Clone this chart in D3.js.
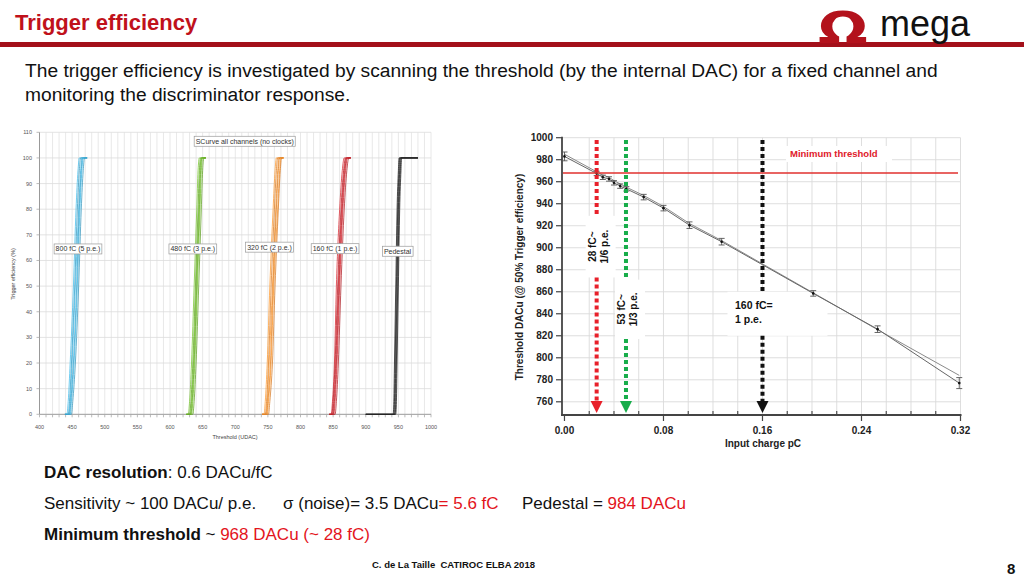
<!DOCTYPE html>
<html><head><meta charset="utf-8">
<script src="https://cdn.jsdelivr.net/npm/d3@7"></script>
<style>body{margin:0;background:#fff;} svg{display:block;font-family:"Liberation Sans",Arial,sans-serif;} text{white-space:pre;}</style>
</head><body>
<svg id="c" width="1024" height="576"></svg>
<script>
// ---------- DATA ----------
// Left chart: S-curves (threshold in UDAC at given efficiency levels, %)
const effLevels = [0, 5, 20, 50, 80, 95, 100];
const blueCh = [
  [442,444,447,452,456,459,461],[444,446,449,454,458,461,463],[445,447,450,455,460,463,465],
  [446,448,452,457,461,464,466],[447,449,453,458,462,465,467],[449,451,455,460,464,467,469]];
const greenCh = [
  [628,630,633,637,641,643,645],[630,632,635,639,643,645,647],[631,633,636,640,644,646,648],
  [632,634,637,641,645,647,649],[633,635,638,642,646,648,650],[635,637,640,644,648,650,652]];
const orangeCh = [
  [744,746,749,753,758,761,763],[746,748,751,755,760,763,765],[747,749,752,757,762,765,767],
  [748,750,754,758,763,766,768],[749,751,755,759,765,768,770],[751,753,757,761,766,769,771]];
const redCh = [
  [847,849,852,855,860,864,867],[848,850,853,857,862,866,869],[849,851,854,858,863,867,870],
  [850,852,855,859,864,868,871],[851,853,856,860,865,869,872],[853,855,858,862,867,871,874]];
const blackCh = [
  [942,943,944,946,948,950,951],[943,944,945,947,949,951,952],[944,945,946,948,950,952,953],
  [945,946,947,949,951,953,954],[946,947,948,950,952,954,955]];
const groupNames = ["800 fC (5 p.e.)","480 fC (3 p.e.)","320 fC (2 p.e.)","160 fC (1 p.e.)","Pedestal"];
const groupColors = ["#3eaad3","#6cb22a","#f08a2a","#c4262e","#222222"];
const groupTailLeft = [439, 625, 741, 844, 900];
const groupTailRight = [473, 655, 774, 877, 980];
const groupLabelPos = [[459,64.5],[635,64.5],[752.5,65.2],[853,64.6],[948.7,63.6]]; // [UDAC, %]
const leftTitle = "SCurve all channels (no clocks)";
const leftXTicks = [400,450,500,550,600,650,700,750,800,850,900,950,1000];
const leftYTicks = [0,10,20,30,40,50,60,70,80,90,100,110];

// Right chart: threshold vs input charge
const chargeA = [0, 0.026, 0.031, 0.036, 0.040, 0.045, 0.050, 0.064, 0.080, 0.101, 0.127, 0.201, 0.253, 0.319];
const dacA    = [983, 967.5, 964, 962.5, 959, 956, 953.5, 946, 936, 920.5, 905.5, 858.5, 826, 777];
const errA    = [4, 2, 2, 2, 2, 2, 2, 2.5, 2.5, 3, 3, 2.5, 3, 5];
const dacB    = [985, 969, 966, 964, 961, 958, 955, 947.5, 937.5, 922, 906.5, 859, 825.5, 784];
const rightXTicks = [0, 0.08, 0.16, 0.24, 0.32];
const rightYTicks = [760,780,800,820,840,860,880,900,920,940,960,980,1000];
const minThreshold = 968;
const markers = [ // charge (pC), colour, label lines, gap [top,bottom] in DACu
  {q:0.026, color:"#e8202a", lines:["28 fC~","1/6 p.e."], gap:[929,873]},
  {q:0.0497, color:"#17ad4a", lines:["53 fC~","1/3 p.e."], gap:[871,817]},
  {q:0.16, color:"#111111", lines:["160 fC=","1 p.e."], gap:[860,820]}
];

// ---------- DRAW ----------
const svg = d3.select("#c");

// header
svg.append("text").attr("x",15).attr("y",30).attr("font-size",22).attr("font-weight","bold")
  .attr("fill","#c0111b").text("Trigger efficiency");
svg.append("rect").attr("x",0).attr("y",42).attr("width",1024).attr("height",5).attr("fill","#a3101a");
svg.append("text").attr("transform","translate(818,44) scale(1.3,1)").attr("font-size",45).attr("font-weight","bold")
  .attr("font-family","DejaVu Sans, sans-serif").attr("fill","#b3121c").text("Ω");
svg.append("text").attr("x",880).attr("y",36).attr("font-size",36).attr("fill","#111").text("mega");

svg.append("text").attr("x",25).attr("y",77).attr("font-size",19.2).attr("fill","#111")
  .text("The trigger efficiency is investigated by scanning the threshold (by the internal DAC) for a fixed channel and");
svg.append("text").attr("x",25).attr("y",101).attr("font-size",19.2).attr("fill","#111")
  .text("monitoring the discriminator response.");

// ---------- LEFT CHART ----------
const xL = d3.scaleLinear([400,1000],[39.5,431]);
const yL = d3.scaleLinear([0,110],[414.3,132.3]);
const gL = svg.append("g");
gL.selectAll(".vg").data(d3.range(410,1001,10)).join("line")
  .attr("x1",d=>xL(d)).attr("x2",d=>xL(d)).attr("y1",yL(110)).attr("y2",yL(0))
  .attr("stroke","#e2e2e2").attr("stroke-width",0.8);
gL.selectAll(".hg").data(leftYTicks.filter(d=>d>0)).join("line")
  .attr("x1",xL(400)).attr("x2",xL(1000)).attr("y1",d=>yL(d)).attr("y2",d=>yL(d))
  .attr("stroke","#dcdcdc").attr("stroke-width",0.8);
gL.append("line").attr("x1",xL(400)).attr("x2",xL(400)).attr("y1",yL(110)).attr("y2",yL(0)).attr("stroke","#999");
gL.append("line").attr("x1",xL(400)).attr("x2",xL(1000)).attr("y1",yL(0)).attr("y2",yL(0)).attr("stroke","#999");
gL.selectAll(".xt").data(d3.range(400,1001,10)).join("line")
  .attr("x1",d=>xL(d)).attr("x2",d=>xL(d)).attr("y1",yL(0)).attr("y2",yL(0)+3).attr("stroke","#aaa").attr("stroke-width",0.8);
gL.selectAll(".yt").data(leftYTicks).join("line")
  .attr("x1",xL(400)-3).attr("x2",xL(400)).attr("y1",d=>yL(d)).attr("y2",d=>yL(d)).attr("stroke","#aaa").attr("stroke-width",0.8);
gL.selectAll(".xl").data(leftXTicks).join("text")
  .attr("x",d=>xL(d)).attr("y",429).attr("text-anchor","middle").attr("font-size",5.5).attr("fill","#555").text(d=>d);
gL.selectAll(".yl").data(leftYTicks).join("text")
  .attr("x",32).attr("y",d=>yL(d)+2).attr("text-anchor","end").attr("font-size",5.5).attr("fill","#555").text(d=>d);
gL.append("text").attr("x",235).attr("y",439).attr("text-anchor","middle").attr("font-size",5.5).attr("fill","#444").text("Threshold (UDAC)");
gL.append("text").attr("transform","translate(15,274) rotate(-90)").attr("text-anchor","middle").attr("font-size",5.5).attr("fill","#444").text("Trigger efficiency (%)");

const lineL = d3.line().x(d=>xL(d[0])).y(d=>yL(d[1])).curve(d3.curveMonotoneX);
[blueCh, greenCh, orangeCh, redCh, blackCh].forEach((chs,gi)=>{
  chs.forEach((ch,ci)=>{
    const pts = [[groupTailLeft[gi],0]].concat(ch.map((v,i)=>[v,effLevels[i]])).concat([[groupTailRight[gi],100]]);
    gL.append("path").attr("d",lineL(pts)).attr("fill","none")
      .attr("stroke",d3.color(groupColors[gi]).darker(ci%2?0.3:-0.3))
      .attr("stroke-width",0.9).attr("stroke-opacity",0.85);
  });
});
function boxLabel(g, cx, cy, txt, fs){
  const t = g.append("text").attr("x",cx).attr("y",cy+fs*0.35).attr("text-anchor","middle")
    .attr("font-size",fs).attr("fill","#333").text(txt);
  const bb = t.node().getBBox();
  g.insert("rect", () => t.node()).attr("x",bb.x-1.5).attr("y",cy-5).attr("width",bb.width+3).attr("height",10)
    .attr("fill","#fff").attr("stroke","#9a9a9a").attr("stroke-width",0.7);
}
groupNames.forEach((n,i)=> boxLabel(gL, xL(groupLabelPos[i][0]), yL(groupLabelPos[i][1]), n, 7));
boxLabel(gL, xL(714.5), yL(106.5), leftTitle, 7);

// ---------- RIGHT CHART ----------
const xR = d3.scaleLinear([-0.002,0.32],[562,960.5]);
const yR = d3.scaleLinear([748,1000],[415,137.7]);
const gR = svg.append("g");
gR.selectAll(".vg").data(d3.range(1,17).map(i=>i*0.02)).join("line")
  .attr("x1",d=>xR(d)).attr("x2",d=>xR(d)).attr("y1",yR(1000)).attr("y2",yR(748))
  .attr("stroke","#dadada").attr("stroke-width",0.9);
gR.selectAll(".hg").data(rightYTicks).join("line")
  .attr("x1",xR(-0.002)).attr("x2",xR(0.32)).attr("y1",d=>yR(d)).attr("y2",d=>yR(d))
  .attr("stroke","#dadada").attr("stroke-width",0.9);

markers.forEach((m,i)=>{
  const y0 = yR(m.gap[0]), y1 = yR(m.gap[1]);
  if(i<2){
    gR.append("rect").attr("x",xR(m.q)-11).attr("y",y0).attr("width",30).attr("height",y1-y0).attr("fill","#fff");
  } else {
    gR.append("rect").attr("x",xR(m.q)-35).attr("y",y0).attr("width",100).attr("height",y1-y0).attr("fill","#fff");
  }
});
gR.append("rect").attr("x",786).attr("y",146).attr("width",106).attr("height",16).attr("fill","#fff");

gR.append("line").attr("x1",562).attr("x2",562).attr("y1",yR(1000)-1).attr("y2",yR(748)).attr("stroke","#444").attr("stroke-width",1.8);
gR.append("line").attr("x1",561).attr("x2",xR(0.32)+1).attr("y1",yR(748)).attr("y2",yR(748)).attr("stroke","#444").attr("stroke-width",1.8);
gR.selectAll(".yt").data(rightYTicks).join("line")
  .attr("x1",556).attr("x2",562).attr("y1",d=>yR(d)).attr("y2",d=>yR(d)).attr("stroke","#444").attr("stroke-width",1.2);
gR.selectAll(".yl").data(rightYTicks).join("text")
  .attr("x",553).attr("y",d=>yR(d)+3.5).attr("text-anchor","end").attr("font-size",10).attr("font-weight","bold").attr("fill","#222").text(d=>d);
gR.selectAll(".xt").data(rightXTicks).join("line")
  .attr("x1",d=>xR(d)).attr("x2",d=>xR(d)).attr("y1",yR(748)).attr("y2",yR(748)+6).attr("stroke","#444").attr("stroke-width",1.2);
gR.selectAll(".xm").data(d3.range(1,16).map(i=>i*0.02).filter(v=>Math.abs(v/0.08-Math.round(v/0.08))>0.01)).join("line")
  .attr("x1",d=>xR(d)).attr("x2",d=>xR(d)).attr("y1",yR(748)).attr("y2",yR(748)-4).attr("stroke","#444").attr("stroke-width",1.1);
gR.selectAll(".xl").data(rightXTicks).join("text")
  .attr("x",d=>xR(d)).attr("y",434).attr("text-anchor","middle").attr("font-size",10).attr("font-weight","bold").attr("fill","#222").text(d=>d.toFixed(2));
gR.append("text").attr("x",763).attr("y",447).attr("text-anchor","middle").attr("font-size",10).attr("font-weight","bold").attr("fill","#222").text("Input charge pC");
gR.append("text").attr("transform","translate(523,277) rotate(-90)").attr("text-anchor","middle").attr("font-size",10).attr("font-weight","bold").attr("fill","#222").text("Threshold DACu (@ 50% Trigger efficiency)");

const lineR = d3.line().x(d=>xR(d[0])).y(d=>yR(d[1]));
gR.append("path").attr("d",lineR(chargeA.map((q,i)=>[q,dacB[i]]))).attr("fill","none").attr("stroke","#8a8a8a").attr("stroke-width",1);
gR.append("path").attr("d",lineR(chargeA.map((q,i)=>[q,dacA[i]]))).attr("fill","none").attr("stroke","#666").attr("stroke-width",1);
chargeA.forEach((q,i)=>{
  const x = xR(q), yt = yR(dacA[i]+errA[i]), yb = yR(dacA[i]-errA[i]);
  gR.append("line").attr("x1",x).attr("x2",x).attr("y1",yt).attr("y2",yb).attr("stroke","#555").attr("stroke-width",0.9);
  [yt,yb].forEach(yy=>gR.append("line").attr("x1",x-3).attr("x2",x+3).attr("y1",yy).attr("y2",yy).attr("stroke","#555").attr("stroke-width",0.9));
  gR.append("circle").attr("cx",x).attr("cy",yR(dacA[i])).attr("r",1.3).attr("fill","#111");
});

markers.forEach((m,i)=>{
  const x = xR(m.q);
  const top = 140, tip = 413;
  gR.append("line").attr("x1",x).attr("x2",x).attr("y1",top).attr("y2",yR(m.gap[0])).attr("stroke",m.color).attr("stroke-width",4).attr("stroke-dasharray","4,3");
  gR.append("line").attr("x1",x).attr("x2",x).attr("y1",yR(m.gap[1])).attr("y2",tip-11).attr("stroke",m.color).attr("stroke-width",4).attr("stroke-dasharray","4,3");
  gR.append("path").attr("d",`M${x-6},${tip-12}L${x+6},${tip-12}L${x},${tip}Z`).attr("fill",m.color);
  if(i<2){
    const cy = (yR(m.gap[0])+yR(m.gap[1]))/2;
    m.lines.forEach((l,j)=>{
      gR.append("text").attr("transform",`translate(${x-1+j*12},${cy}) rotate(-90)`).attr("text-anchor","middle")
        .attr("font-size",10).attr("font-weight","bold").attr("fill","#111").text(l);
    });
  } else {
    m.lines.forEach((l,j)=>{
      gR.append("text").attr("x",735).attr("y",309+j*13.5).attr("font-size",10.5).attr("font-weight","bold").attr("fill","#111").text(l);
    });
  }
});

gR.append("line").attr("x1",563).attr("x2",958).attr("y1",yR(minThreshold)).attr("y2",yR(minThreshold)).attr("stroke","#e0302e").attr("stroke-width",1.5);
gR.append("text").attr("x",790).attr("y",157).attr("font-size",9.5).attr("font-weight","bold").attr("fill","#e0202a").text("Minimum threshold");

// ---------- BOTTOM TEXT ----------
const red = "#e3141c";
const t1 = svg.append("text").attr("x",44).attr("y",478).attr("font-size",17).attr("fill","#111");
t1.append("tspan").attr("font-weight","bold").text("DAC resolution");
t1.append("tspan").text(": 0.6 DACu/fC");
svg.append("text").attr("x",44).attr("y",509).attr("font-size",17).attr("fill","#111").text("Sensitivity ~ 100 DACu/ p.e.");
const t2 = svg.append("text").attr("x",283).attr("y",509).attr("font-size",17).attr("fill","#111");
t2.append("tspan").text("σ (noise)= 3.5 DACu");
t2.append("tspan").attr("fill",red).text("= 5.6 fC");
const t3 = svg.append("text").attr("x",522).attr("y",509).attr("font-size",17).attr("fill","#111");
t3.append("tspan").text("Pedestal = ");
t3.append("tspan").attr("fill",red).text("984 DACu");
const t4 = svg.append("text").attr("x",44).attr("y",540).attr("font-size",17).attr("fill","#111");
t4.append("tspan").attr("font-weight","bold").text("Minimum threshold");
t4.append("tspan").text(" ~ ");
t4.append("tspan").attr("fill",red).text("968 DACu (~ 28 fC)");

svg.append("text").attr("x",372).attr("y",568).attr("font-size",9.5).attr("font-weight","bold").attr("fill","#111").text("C. de La Taille  CATIROC ELBA 2018");
svg.append("text").attr("x",1007).attr("y",574).attr("font-size",15).attr("font-weight","bold").attr("fill","#111").text("8");
</script>
</body></html>
